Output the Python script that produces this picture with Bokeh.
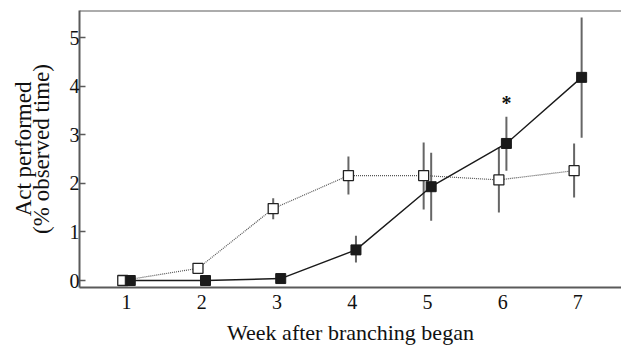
from bokeh.plotting import figure
from bokeh.models import Range1d, Span, FixedTicker, Label, ColumnDataSource
from bokeh.embed import file_html
from bokeh.resources import INLINE

weeks = [1, 2, 3, 4, 5, 6, 7]
open_vals = [0.0, 0.25, 1.48, 2.16, 2.16, 2.07, 2.26]
open_hi = [0.0, 0.25, 1.69, 2.55, 2.84, 2.74, 2.82]
open_lo = [0.0, 0.25, 1.26, 1.77, 1.46, 1.40, 1.71]
filled_vals = [0.0, 0.0, 0.04, 0.63, 1.93, 2.82, 4.18]
filled_hi = [0.0, 0.0, 0.04, 0.92, 2.63, 3.37, 5.41]
filled_lo = [0.0, 0.0, 0.04, 0.37, 1.23, 2.26, 2.94]
y_ticks = [0, 1, 2, 3, 4, 5]
x_ticks = [1, 2, 3, 4, 5, 6, 7]
y_label_lines = ["Act performed", "(% observed time)"]

OFF = 0.05
FONT = "Liberation Serif"
AX = "#5a5a5a"

p = figure(width=621, height=348, output_backend="svg", toolbar_location=None,
           x_range=Range1d(0.375, 7.58), y_range=Range1d(-0.144, 5.556),
           min_border_left=79, min_border_right=0, min_border_top=10, min_border_bottom=61)
p.outline_line_color = None
p.grid.grid_line_color = None
p.background_fill_color = "white"

src_o = ColumnDataSource(dict(x=[w - OFF for w in weeks], y=open_vals, hi=open_hi, lo=open_lo))
src_f = ColumnDataSource(dict(x=[w + OFF for w in weeks], y=filled_vals, hi=filled_hi, lo=filled_lo))

p.segment(x0="x", y0="lo", x1="x", y1="hi", source=src_o, line_color="#666666", line_width=2)
p.segment(x0="x", y0="lo", x1="x", y1="hi", source=src_f, line_color="#666666", line_width=2)

p.line("x", "y", source=src_o, line_color="#555555", line_width=1.2, line_dash="1 1")
p.line("x", "y", source=src_f, line_color="#1a1a1a", line_width=1.4)

p.scatter("x", "y", source=src_o, marker="square", size=10, fill_color="white",
          line_color="#222222", line_width=1.3)
p.scatter("x", "y", source=src_f, marker="square", size=10, fill_color="#1a1a1a",
          line_color="#1a1a1a", line_width=1)

p.add_layout(Label(x=6 + OFF, y=3.66, text="*", text_font=FONT, text_font_size="20px",
                   text_font_style="bold", text_align="center", text_baseline="middle",
                   text_color="#111111"))

p.add_layout(Span(location=5.556, dimension="width", line_color=AX, line_width=2))

p.xaxis.ticker = FixedTicker(ticks=x_ticks)
p.yaxis.ticker = FixedTicker(ticks=y_ticks)
for ax in (p.xaxis[0], p.yaxis[0]):
    ax.axis_line_color = AX
    ax.axis_line_width = 2
    ax.major_label_text_font = FONT
    ax.major_label_text_font_size = "20px"
    ax.major_label_text_line_height = 1.0
    ax.major_label_text_color = "#111111"
    ax.axis_label_text_font = FONT
    ax.axis_label_text_font_size = "22px"
    ax.axis_label_text_font_style = "normal"
    ax.axis_label_text_color = "#111111"
    ax.minor_tick_line_color = None
p.xaxis.major_tick_line_color = None
p.xaxis.major_tick_in = 0
p.xaxis.major_tick_out = 0
p.xaxis.major_label_standoff = 7
p.xaxis.axis_label = "Week after branching began"
p.xaxis.axis_label_standoff = 8
p.xaxis.axis_label_text_line_height = 1.0
p.yaxis.major_tick_in = 6
p.yaxis.major_tick_out = 0
p.yaxis.major_tick_line_color = AX
p.yaxis.major_tick_line_width = 1.5
p.yaxis.major_label_standoff = 0
p.yaxis.axis_label = "\n".join(y_label_lines)
p.yaxis.axis_label_text_font_size = "23px"
p.yaxis.axis_label_text_line_height = 0.72
p.yaxis.axis_label_standoff = 13

open("out.html", "w").write(file_html(p, INLINE))
